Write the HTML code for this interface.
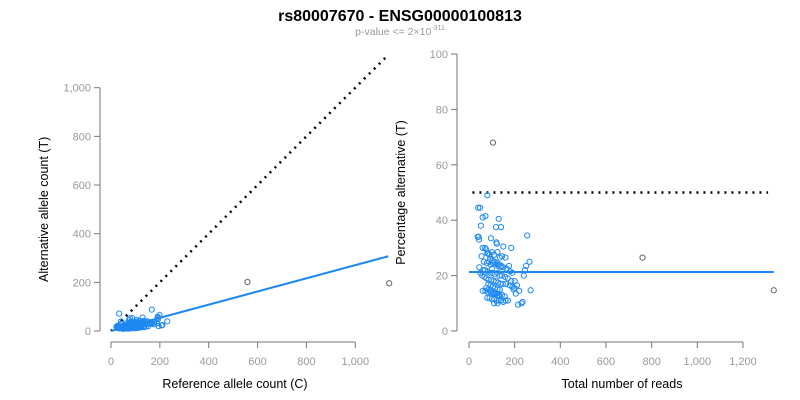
<!DOCTYPE html>
<html><head><meta charset="utf-8"><style>
body{margin:0;background:#fff;}
svg{display:block;font-family:"Liberation Sans",sans-serif;}
</style></head><body>
<svg id="c" width="800" height="400">
<text x="400" y="21" text-anchor="middle" font-size="16" font-weight="bold">rs80007670 - ENSG00000100813</text>
<text x="400" y="35" text-anchor="middle" font-size="10.5" fill="#999">p-value &lt;= 2×10<tspan dy="-5" font-size="7">-311</tspan></text>
<g id="left"></g>
<g id="right"></g>
</svg>
<script>
const totals=[105,1335,760,80,40,48,60,72,130,118,140,52,96,255,38,42,44,120,122,150,185,60,70,75,80,85,90,100,110,125,135,145,160,175,190,240,265,250,55,65,78,88,95,105,115,128,138,150,165,180,200,210,220,230,245,270,45,50,62,70,82,92,102,112,124,134,144,158,170,185,195,205,58,68,76,86,98,108,118,128,138,148,162,178,190,200,85,95,105,115,125,135,60,72,84,96,108,120,132,144,156,80,90,100,110,120,130,140,150,75,85,95,105,115,125,135,92,102,112,122,132,142,215,235,160,170,110,125,100];
const pcts=[68,14.7,26.5,49,44.5,44.5,41,41.5,40.5,37.5,37.5,38,33.5,34.5,34,34,33,32,31.5,30.5,30,30,30,29.5,28,28,27.5,28.5,27.5,28.5,26.5,27,26.5,23.5,21,20,25,23.5,27,25,24.5,25,24,24.5,24,23.5,23,23,22.5,21.5,18,16.5,14.5,10,22,14.7,23,21,22,22,21.5,21,21,20.5,21,20,20,19.5,19,18,15,13.5,20,19.5,19,18.5,18.5,18,18,17.5,17,17,17,16.5,16,15.5,17,16.5,16,15.5,15,15,14.5,14.5,14,14,13.5,13.5,13,13,12.5,12,12,11.5,11.5,11,11,11,10.5,15.5,15,14.5,14,13.5,13,12.5,26,25.5,25,24.5,24,23.5,9.5,10.5,11,11,10,10,22.5];
const meanPct=21.3;
const xTicksL=[0,200,400,600,800,1000];
const yTicksL=[0,200,400,600,800,1000];
const xTicksR=[0,200,400,600,800,1000,1200];
const yTicksR=[0,20,40,60,80,100];
const NS="http://www.w3.org/2000/svg";
function mk(p,t,a){const e=document.createElementNS(NS,t);for(const k in a)e.setAttribute(k,a[k]);p.appendChild(e);return e;}
const fmt=v=>v.toLocaleString('en-US');
function axes(g,xs,ys,xT,yT,xAxY,yAxX,xl,yl,xlx){
  mk(g,'line',{x1:xs(xT[0]),x2:xs(xT[xT.length-1]),y1:xAxY,y2:xAxY,stroke:'#777'});
  xT.forEach(v=>{mk(g,'line',{x1:xs(v),x2:xs(v),y1:xAxY,y2:xAxY+6,stroke:'#777'});
    const t=mk(g,'text',{x:xs(v),y:xAxY+23,'text-anchor':'middle','font-size':11,fill:'#999'});t.textContent=fmt(v);
    
    });
  mk(g,'line',{x1:yAxX,x2:yAxX,y1:ys(yT[0]),y2:ys(yT[yT.length-1]),stroke:'#777'});
  yT.forEach(v=>{mk(g,'line',{x1:yAxX-6,x2:yAxX,y1:ys(v),y2:ys(v),stroke:'#777'});
    const t=mk(g,'text',{x:yAxX-9,y:ys(v)+4,'text-anchor':'end','font-size':11,fill:'#999'});t.textContent=fmt(v);
    
    });
  const a=mk(g,'text',{x:xlx,y:388,'text-anchor':'middle','font-size':12.5});a.textContent=xl;
  
  
  const b=mk(g,'text',{x:0,y:0,'text-anchor':'middle','font-size':12.5,transform:`translate(${yAxX-52},${(ys(yT[0])+ys(yT[yT.length-1]))/2}) rotate(-90)`});b.textContent=yl;
  
  
}
// left
const L=document.getElementById('left');
const lx=v=>111+v*0.2443, ly=v=>331-v*0.2433;
axes(L,lx,ly,xTicksL,yTicksL,342,100,'Reference allele count (C)','Alternative allele count (T)',235);
const dl=mk(L,'line',{x1:lx(0),y1:ly(0),x2:lx(1130),y2:ly(1130),stroke:'#000','stroke-width':2.5,'stroke-dasharray':'2 5'});


const r=meanPct/(100-meanPct);
const bl=mk(L,'line',{x1:lx(0),y1:ly(0),x2:lx(1135),y2:ly(1135*r),stroke:'#1e88f0','stroke-width':2});


totals.forEach((t,i)=>{const a=t*pcts[i]/100,c=t-a;
  const cc=mk(L,'circle',{cx:lx(c),cy:ly(a),r:2.6,fill:'none',stroke:((i==1||i==2)?'#666':'#1e88f0'),'stroke-width':1});
  
  });
// right
const R=document.getElementById('right');
const rx=v=>469+v*0.2283, ry=v=>331-v*2.77;
axes(R,rx,ry,xTicksR,yTicksR,342,457,'Total number of reads','Percentage alternative (T)',622);
const dr=mk(R,'line',{x1:rx(15),y1:ry(50),x2:rx(1310),y2:ry(50),stroke:'#000','stroke-width':2.5,'stroke-dasharray':'2 5'});


const br=mk(R,'line',{x1:rx(0),y1:ry(meanPct),x2:rx(1335),y2:ry(meanPct),stroke:'#1e88f0','stroke-width':2});


totals.forEach((t,i)=>{
  const cc=mk(R,'circle',{cx:rx(t),cy:ry(pcts[i]),r:2.6,fill:'none',stroke:(i<3?'#666':'#1e88f0'),'stroke-width':1});
  
  });
</script>
</body></html>
